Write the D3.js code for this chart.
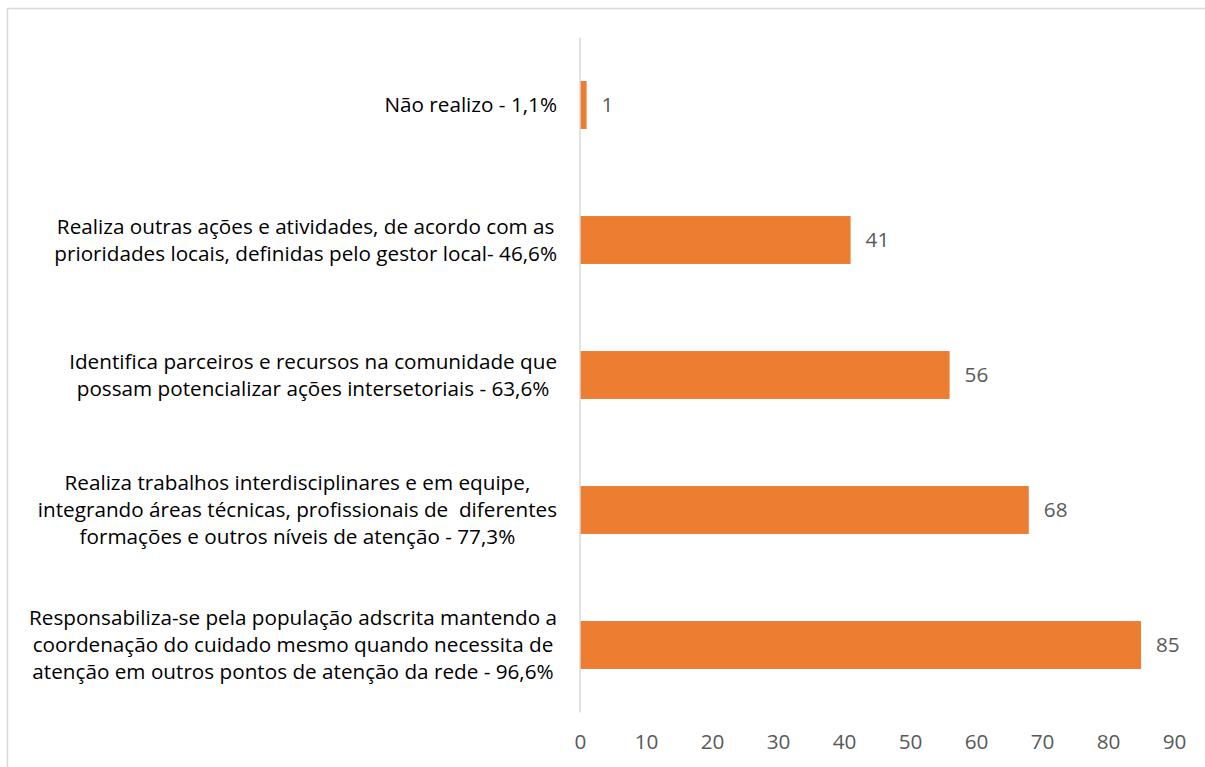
<!DOCTYPE html>
<html>
<head>
<meta charset="utf-8">
<script src="https://cdn.jsdelivr.net/npm/d3@7"></script>
<style>
  body { margin: 0; background: #fff; }
  svg { display: block; font-family: "Open Sans", Lato, sans-serif; }
  text { white-space: pre; }
</style>
</head>
<body>
<script>
const categories = [
  ["Não realizo - 1,1%"],
  ["Realiza outras ações e atividades, de acordo com as", "prioridades locais, definidas pelo gestor local- 46,6%"],
  ["Identifica parceiros e recursos na comunidade que", "possam potencializar ações intersetoriais - 63,6%"],
  ["Realiza trabalhos interdisciplinares e em equipe,", "integrando áreas técnicas, profissionais de  diferentes", "formações e outros níveis de atenção - 77,3%"],
  ["Responsabiliza-se pela população adscrita mantendo a", "coordenação do cuidado mesmo quando necessita de", "atenção em outros pontos de atenção da rede - 96,6%"]
];
const values = [1, 41, 56, 68, 85];
const xTicks = [0, 10, 20, 30, 40, 50, 60, 70, 80, 90];

const width = 1205, height = 767;
const fontSize = 20.7;
const svg = d3.select("body").append("svg")
  .attr("width", width)
  .attr("height", height);

// chart frame
svg.append("rect")
  .attr("x", 7.5).attr("y", 8.5)
  .attr("width", width + 10).attr("height", height + 10)
  .attr("fill", "none")
  .attr("stroke", "#d9d9d9")
  .attr("stroke-width", 1.5);

const x = d3.scaleLinear().domain([0, 90]).range([580, 1174]);
const y = d3.scaleBand()
  .domain(d3.range(categories.length))
  .range([37.5, 712.5])
  .paddingInner(0.645)
  .paddingOuter(0.3225);

// bars
svg.selectAll(".bar")
  .data(values)
  .enter().append("rect")
  .attr("class", "bar")
  .attr("x", x(0))
  .attr("y", (d, i) => y(i))
  .attr("width", d => x(d) - x(0))
  .attr("height", y.bandwidth())
  .attr("fill", "#ed7d31");

// vertical axis line
svg.append("line")
  .attr("x1", x(0)).attr("x2", x(0))
  .attr("y1", 37.5).attr("y2", 712.5)
  .attr("stroke", "#d9d9d9")
  .attr("stroke-width", 1.5);

// value labels
svg.selectAll(".val")
  .data(values)
  .enter().append("text")
  .attr("class", "val")
  .attr("x", d => x(d) + 15)
  .attr("y", (d, i) => y(i) + y.bandwidth() / 2)
  .attr("dy", "0.35em")
  .attr("fill", "#595959")
  .attr("font-size", fontSize)
  .text(d => d);

// x axis tick labels
const xAxis = d3.axisBottom(x).tickValues(xTicks).tickSize(0).tickPadding(0);
const gx = svg.append("g")
  .attr("transform", "translate(0, 734)")
  .call(xAxis);
gx.select(".domain").remove();
gx.selectAll("text")
  .attr("font-family", "'Open Sans', Lato, sans-serif")
  .attr("font-size", fontSize)
  .attr("fill", "#595959");

// category labels: block right-aligned, lines centred inside the block
const lineH = 27;
const right = 557;
categories.forEach((lines, i) => {
  const g = svg.append("g");
  const cy = y(i) + y.bandwidth() / 2;
  const texts = lines.map((t, j) => g.append("text")
    .attr("y", cy + (j - (lines.length - 1) / 2) * lineH)
    .attr("dy", "0.35em")
    .attr("text-anchor", "middle")
    .attr("font-size", fontSize)
    .attr("fill", "#000")
    .text(t));
  const maxW = d3.max(texts, t => t.node().getComputedTextLength());
  texts.forEach(t => t.attr("x", right - maxW / 2));
});
</script>
</body>
</html>
